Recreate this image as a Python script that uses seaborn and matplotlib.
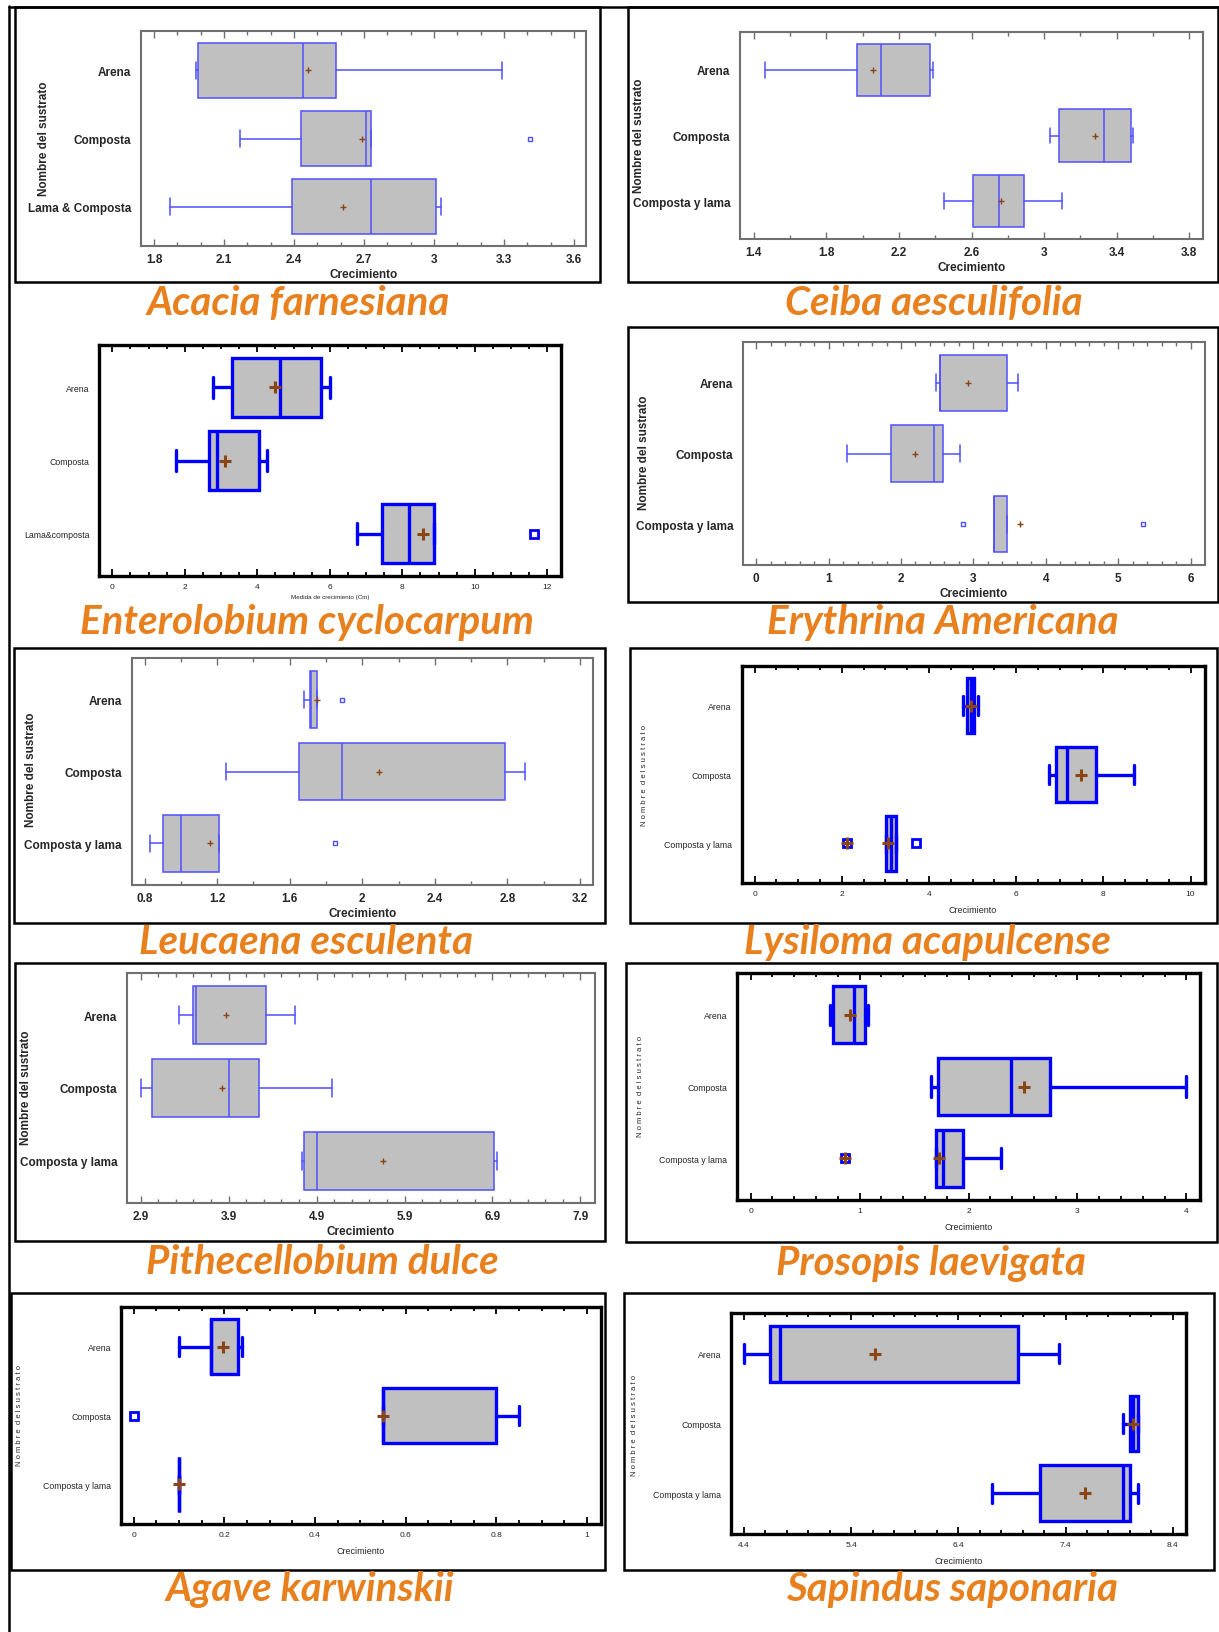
import numpy as np
import matplotlib
matplotlib.use("Agg")
import matplotlib.pyplot as plt
from matplotlib.patches import Rectangle
from matplotlib.lines import Line2D
from matplotlib.ticker import FixedLocator, FormatStrFormatter
import seaborn as sns

# box summaries per substrate: [whisker low, q1, median, q3, whisker high]
acacia_groups = ["Arena", "Composta", "Lama & Composta"]
acacia_box = [[1.98, 1.99, 2.44, 2.58, 3.29],
              [2.17, 2.43, 2.71, 2.73, 2.73],
              [1.87, 2.39, 2.73, 3.01, 3.03]]
acacia_mean = [2.46, 2.69, 2.61]
acacia_out = [[], [3.41], []]

ceiba_groups = ["Arena", "Composta", "Composta y lama"]
ceiba_box = [[1.46, 1.97, 2.10, 2.37, 2.39],
             [3.03, 3.08, 3.33, 3.48, 3.49],
             [2.45, 2.61, 2.75, 2.89, 3.10]]
ceiba_mean = [2.06, 3.28, 2.76]
ceiba_out = [[], [], []]

entero_groups = ["Arena", "Composta", "Lama&composta"]
entero_box = [[2.79, 3.30, 4.63, 5.77, 6.00],
              [1.77, 2.67, 2.88, 4.04, 4.27],
              [6.75, 7.44, 8.19, 8.87, 8.87]]
entero_mean = [4.50, 3.12, 8.58]
entero_out = [[], [], [11.64]]

eryth_groups = ["Arena", "Composta", "Composta y lama"]
eryth_box = [[2.48, 2.54, 2.54, 3.46, 3.62],
             [1.25, 1.86, 2.46, 2.58, 2.82],
             [3.28, 3.28, 3.28, 3.47, 3.47]]
eryth_mean = [2.92, 2.20, 3.64]
eryth_out = [[], [], [2.85, 5.35]]

leuc_groups = ["Arena", "Composta", "Composta y lama"]
leuc_box = [[1.68, 1.71, 1.72, 1.75, 1.75],
            [1.25, 1.65, 1.89, 2.79, 2.90],
            [0.83, 0.90, 1.00, 1.21, 1.21]]
leuc_mean = [1.75, 2.09, 1.16]
leuc_out = [[1.89], [], [1.85]]

lysi_groups = ["Arena", "Composta", "Composta y lama"]
lysi_box = [[4.78, 4.88, 4.96, 5.03, 5.13],
            [6.75, 6.91, 7.17, 7.82, 8.70],
            [3.02, 3.02, 3.13, 3.25, 3.25]]
lysi_mean = [4.97, 7.48, 3.05]
lysi_out = [[], [], [2.12, 3.71]]
lysi_far = [None, None, 2.12]

pithe_groups = ["Arena", "Composta", "Composta y lama"]
pithe_box = [[3.34, 3.49, 3.53, 4.33, 4.65],
             [2.90, 3.03, 3.91, 4.25, 5.07],
             [4.74, 4.76, 4.91, 6.92, 6.95]]
pithe_mean = [3.87, 3.83, 5.65]
pithe_out = [[], [], []]

proso_groups = ["Arena", "Composta", "Composta y lama"]
proso_box = [[0.73, 0.76, 0.95, 1.05, 1.08],
             [1.66, 1.72, 2.39, 2.75, 4.00],
             [1.70, 1.70, 1.77, 1.95, 2.30]]
proso_mean = [0.91, 2.51, 1.73]
proso_out = [[], [], [0.87]]
proso_far = [None, None, 0.87]

agave_groups = ["Arena", "Composta", "Composta y lama"]
agave_box = [[0.10, 0.17, 0.17, 0.23, 0.24],
             [0.55, 0.55, 0.55, 0.80, 0.85],
             [0.10, 0.10, 0.10, 0.10, 0.10]]
agave_mean = [0.196, 0.55, 0.10]
agave_out = [[], [0.0], []]

sapin_groups = ["Arena", "Composta", "Composta y lama"]
sapin_box = [[4.40, 4.64, 4.74, 6.96, 7.34],
             [7.94, 8.00, 8.03, 8.08, 8.08],
             [6.71, 7.16, 7.94, 8.00, 8.08]]
sapin_mean = [5.62, 8.03, 7.58]
sapin_out = [[], [], []]

W, H = 1219, 1633
fig = plt.figure(figsize=(W / 100, H / 100), dpi=100)
sns.set_style("white")

BOLD = ["Liberation Sans", "DejaVu Sans"]
NARROW = ["Liberation Sans", "DejaVu Sans"]
ORANGE = "#E8801E"
BROWN = "#8B4513"


def fig_rect(x0, y0, x1, y1):
    return [x0 / W, 1 - y1 / H, (x1 - x0) / W, (y1 - y0) / H]


def draw_panel(name, groups, box, means, outs, far, frame, axbox, title_xy, ylab_xy,
               xlim, ticks, thick):
    if frame is not None:
        x0, y0, x1, y1 = frame
        fig.add_artist(Rectangle((x0 / W, 1 - y1 / H), (x1 - x0) / W, (y1 - y0) / H,
                                 transform=fig.transFigure, fill=False, lw=1.8, ec="black"))
    ax = fig.add_axes(fig_rect(*axbox))
    blue = "#0000FF" if thick else "#5050FF"
    lw = 2.4 if thick else 1.1
    stats = []
    for b, m, o in zip(box, means, outs):
        stats.append(dict(whislo=b[0], q1=b[1], med=b[2], q3=b[3], whishi=b[4],
                          mean=m, fliers=o))
    pos = [1, 2, 3]
    ax.bxp(stats, positions=pos, widths=0.8, orientation="horizontal", patch_artist=True,
           showmeans=False, capwidths=0.28 if thick else 0.24,
           boxprops=dict(facecolor="#C0C0C0", edgecolor=blue, lw=lw),
           medianprops=dict(color=blue, lw=lw),
           whiskerprops=dict(color=blue, lw=lw),
           capprops=dict(color=blue, lw=lw),
           flierprops=dict(marker="s", mfc="none", mec=blue,
                           ms=6 if thick else 3, mew=2 if thick else 1))
    sns.scatterplot(x=means, y=pos, ax=ax, marker="+", color=BROWN,
                    s=70 if thick else 14, linewidth=2.2 if thick else 1.0,
                    legend=False, zorder=5)
    if far is not None:
        fx = [v for v in far if v is not None]
        fy = [p for v, p in zip(far, pos) if v is not None]
        sns.scatterplot(x=fx, y=fy, ax=ax, marker="+", color=BROWN, s=70,
                        linewidth=2.2, legend=False, zorder=6)
    ax.set_xlim(*xlim)
    ax.set_ylim(3.58, 0.42)
    ax.set_xlabel("")
    ax.set_ylabel("")
    start, stop, step, mstep = ticks
    ax.xaxis.set_major_locator(FixedLocator(np.arange(start, stop + step / 2, step)))
    ax.xaxis.set_minor_locator(FixedLocator(np.arange(start, stop + mstep / 2, mstep)))
    ax.xaxis.set_major_formatter(FormatStrFormatter("%g"))
    ax.set_yticks(pos)
    spine_c = "black" if thick else "#707070"
    for s in ax.spines.values():
        s.set_visible(True)
        s.set_color(spine_c)
        s.set_linewidth(2.4 if thick else 1.5)
    ax.tick_params(axis="x", which="both", direction="in", top=True, bottom=True,
                   color=spine_c, width=1.3 if thick else 1.0)
    ax.tick_params(axis="x", which="major", length=5, pad=5)
    ax.tick_params(axis="x", which="minor", length=3)
    ax.tick_params(axis="y", length=0, pad=7)
    if thick:
        ax.set_yticklabels(groups, family=NARROW, fontsize=6.3)
        for t in ax.get_xticklabels():
            t.set_family(NARROW)
            t.set_fontsize(6)
        if name == "Enterolobium cyclocarpum":
            ax.set_xlabel("Medida de crecimiento (Cm)", family=NARROW, fontsize=4.5,
                          labelpad=3)
        else:
            ax.set_xlabel("Crecimiento", family=NARROW, fontsize=6.5, labelpad=6)
    else:
        ax.set_yticklabels(groups, family=BOLD, fontweight="bold", fontsize=8.5)
        for t in ax.get_xticklabels():
            t.set_family(BOLD)
            t.set_fontweight("bold")
            t.set_fontsize(8.5)
        ax.set_xlabel("Crecimiento", family=BOLD, fontweight="bold", fontsize=8.5,
                      labelpad=2)
    if ylab_xy is not None:
        if thick:
            fig.text(ylab_xy[0] / W, 1 - ylab_xy[1] / H,
                     "N o m b r e  d e l s u s t r a t o", rotation=90,
                     ha="center", va="center", family=NARROW, fontsize=5.5)
        else:
            fig.text(ylab_xy[0] / W, 1 - ylab_xy[1] / H, "Nombre del sustrato",
                     rotation=90, ha="center", va="center", family=BOLD,
                     fontweight="bold", fontsize=8.5)
    fig.text(title_xy[0] / W, 1 - title_xy[1] / H, name, ha="center", va="center",
             color=ORANGE, fontsize=29, fontweight="bold", fontstyle="italic",
             family=["Lato", "DejaVu Sans"])


draw_panel("Acacia farnesiana", acacia_groups, acacia_box, acacia_mean, acacia_out, None,
           (14.8, 8, 600, 283), (141, 32, 586, 247), (298, 303), (44, 139),
           (1.744, 3.652), (1.8, 3.6, 0.3, 0.1), False)
draw_panel("Ceiba aesculifolia", ceiba_groups, ceiba_box, ceiba_mean, ceiba_out, None,
           (627.5, 8, 1217.5, 283), (740, 33, 1203, 240), (934, 303), (639, 136),
           (1.325, 3.875), (1.4, 3.8, 0.4, 0.2), False)
draw_panel("Enterolobium cyclocarpum", entero_groups, entero_box, entero_mean, entero_out,
           None, None, (99, 346, 561, 577), (307, 623), None,
           (-0.365, 12.375), (0, 12, 2, 0.5), True)
draw_panel("Erythrina Americana", eryth_groups, eryth_box, eryth_mean, eryth_out, None,
           (627.5, 328, 1217.5, 603), (743, 343, 1204.5, 566), (943, 623), (644, 453),
           (-0.183, 6.193), (0, 6, 1, 0.2), False)
draw_panel("Leucaena esculenta", leuc_groups, leuc_box, leuc_mean, leuc_out, None,
           (14, 649, 605, 924), (131.5, 659, 593, 886), (306, 943), (31, 770),
           (0.727, 3.273), (0.8, 3.2, 0.4, 0.2), False)
draw_panel("Lysiloma acapulcense", lysi_groups, lysi_box, lysi_mean, lysi_out, lysi_far,
           (630, 649, 1217, 924), (741.5, 667, 1204.5, 884), (928, 943), (645, 775),
           (-0.30, 10.32), (0, 10, 2, 0.5), True)
draw_panel("Pithecellobium dulce", pithe_groups, pithe_box, pithe_mean, pithe_out, None,
           (14.8, 964, 605, 1242), (127, 974, 594.5, 1204), (322, 1263), (26, 1088),
           (2.745, 8.06), (2.9, 7.9, 1.0, 0.2), False)
draw_panel("Prosopis laevigata", proso_groups, proso_box, proso_mean, proso_out, proso_far,
           (625.5, 964, 1217, 1243), (737, 974, 1200, 1201), (931, 1263), (640, 1087),
           (-0.125, 4.125), (0, 4, 1, 0.2), True)
draw_panel("Agave karwinskii", agave_groups, agave_box, agave_mean, agave_out, None,
           (11, 1294, 605, 1571), (121, 1308, 601, 1525), (310, 1590), (20, 1416),
           (-0.028, 1.031), (0, 1, 0.2, 0.05), True)
draw_panel("Sapindus saponaria", sapin_groups, sapin_box, sapin_mean, sapin_out, None,
           (624, 1294, 1214, 1571), (731, 1314, 1186, 1535), (952, 1590), (635, 1425),
           (4.28, 8.523), (4.4, 8.4, 1.0, 0.2), True)

# page border lines
fig.add_artist(Line2D([8.6 / W, 8.6 / W], [1 - 7 / H, 0], transform=fig.transFigure,
                      color="black", lw=1.8))
fig.add_artist(Line2D([8.6 / W, 1], [1 - 8 / H, 1 - 8 / H], transform=fig.transFigure,
                      color="black", lw=1.8))

fig.savefig("out.png", dpi=100)
